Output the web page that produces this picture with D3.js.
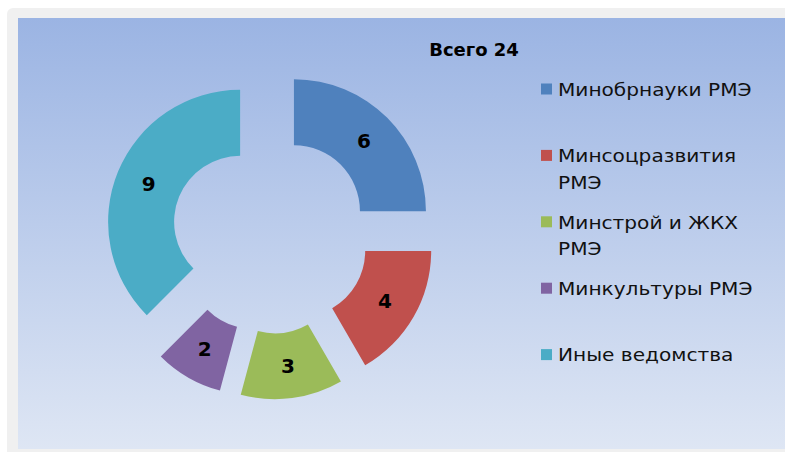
<!DOCTYPE html>
<html>
<head>
<meta charset="utf-8">
<script src="https://cdn.jsdelivr.net/npm/d3@7"></script>
<style>
  body { margin: 0; background: #fff; }
  svg { display: block; }
</style>
</head>
<body>
<svg id="chart" width="785" height="452"></svg>
<script>
const categories = ["Минобрнауки РМЭ", "Минсоцразвития РМЭ", "Минстрой и ЖКХ РМЭ", "Минкультуры РМЭ", "Иные ведомства"];
const values = [6, 4, 3, 2, 9];
const legendLines = [["Минобрнауки РМЭ"], ["Минсоцразвития", "РМЭ"], ["Минстрой и ЖКХ", "РМЭ"], ["Минкультуры РМЭ"], ["Иные ведомства"]];
const sliceColors = ["#4F81BD", "#C0504D", "#9BBB59", "#8064A2", "#4BACC6"];
const title = "Всего 24";

const svg = d3.select("#chart");
const W = 785, H = 452;

// background: grey frame + gradient panel
const defs = svg.append("defs");
const grad = defs.append("linearGradient")
    .attr("id", "bg").attr("x1", 0).attr("y1", 0).attr("x2", 0).attr("y2", 1);
grad.append("stop").attr("offset", "0%").attr("stop-color", "#9BB4E3");
grad.append("stop").attr("offset", "100%").attr("stop-color", "#DEE6F4");

svg.append("rect").attr("x", 7).attr("y", 8).attr("width", W).attr("height", H)
    .attr("rx", 6).attr("fill", "#F0F0F0");
svg.append("rect").attr("x", 18).attr("y", 18).attr("width", W - 18).attr("height", 431)
    .attr("fill", "url(#bg)");

// donut
const cx = 270.6, cy = 234.5, outerR = 132, innerR = 66, explode = 33;

const pie = d3.pie().sort(null).value(d => d);
const arc = d3.arc().innerRadius(innerR).outerRadius(outerR);
const arcs = pie(values);

const g = svg.append("g").attr("transform", `translate(${cx},${cy})`);

const slice = g.selectAll("g.slice")
    .data(arcs)
    .enter()
    .append("g")
    .attr("class", "slice")
    .attr("transform", d => {
        const a = (d.startAngle + d.endAngle) / 2;
        return `translate(${Math.sin(a) * explode},${-Math.cos(a) * explode})`;
    });

slice.append("path")
    .attr("d", arc)
    .attr("fill", (d, i) => sliceColors[i]);

slice.append("text")
    .attr("transform", d => `translate(${arc.centroid(d)})`)
    .attr("text-anchor", "middle")
    .attr("dy", "0.36em")
    .attr("font-family", "'DejaVu Sans', sans-serif")
    .attr("font-weight", "bold")
    .attr("font-size", 20)
    .attr("fill", "#000")
    .text(d => d.data);

// title
svg.append("text")
    .attr("x", 474).attr("y", 56)
    .attr("text-anchor", "middle")
    .attr("font-family", "'DejaVu Sans', sans-serif")
    .attr("font-weight", "bold")
    .attr("font-size", 18)
    .attr("fill", "#000")
    .text(title);

// legend
const legend = svg.append("g").attr("transform", "translate(541,0)");
const item = legend.selectAll("g.item")
    .data(categories)
    .enter()
    .append("g")
    .attr("class", "item")
    .attr("transform", (d, i) => `translate(0,${89.5 + i * 66.4})`);

item.append("rect")
    .attr("x", 0).attr("y", -6)
    .attr("width", 11).attr("height", 11)
    .attr("fill", (d, i) => sliceColors[i]);

// the original face is a wide geometric font, so stretch a little horizontally
item.append("text")
    .attr("transform", "translate(17,0) scale(1.15,1)")
    .attr("font-family", "'DejaVu Sans', sans-serif")
    .attr("font-size", 17.5)
    .attr("fill", "#111")
    .each(function (d, i) {
        const t = d3.select(this);
        legendLines[i].forEach((line, k) => {
            t.append("tspan")
                .attr("x", 0)
                .attr("y", k * 26.7)
                .attr("dy", "0.36em")
                .text(line);
        });
    });
</script>
</body>
</html>
